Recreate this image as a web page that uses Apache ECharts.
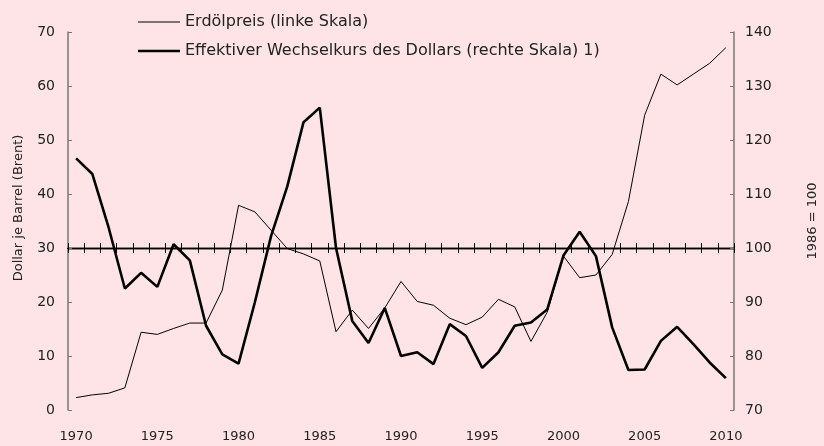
<!DOCTYPE html>
<html>
<head>
<meta charset="utf-8">
<script src="https://cdn.jsdelivr.net/npm/echarts@6/dist/echarts.min.js"></script>
<style>
  html, body { margin: 0; padding: 0; background: #fee4e6; }
  #chart { width: 824px; height: 446px; }
</style>
</head>
<body>
<div id="chart"></div>
<script>
const years = [];
for (let y = 1970; y <= 2010; y++) years.push(String(y));

// Erdölpreis, Dollar je Barrel (linke Skala)
const oilPrice = [
  2.3, 2.8, 3.1, 4.1, 14.4, 14.0, 15.1, 16.1, 16.1, 22.2,
  37.9, 36.7, 33.3, 29.9, 28.9, 27.6, 14.5, 18.5, 15.1, 18.9,
  23.8, 20.1, 19.4, 17.0, 15.8, 17.2, 20.5, 19.1, 12.7, 18.1,
  28.5, 24.5, 25.0, 28.8, 38.6, 54.6, 62.2, 60.2, 62.2, 64.2, 67.1
];

// Effektiver Wechselkurs des Dollars, 1986 = 100 (rechte Skala)
const dollarIndex = [
  116.6, 113.7, 103.8, 92.5, 95.4, 92.8, 100.7, 97.7, 85.6, 80.3,
  78.6, 89.9, 102.2, 111.4, 123.3, 126.0, 100.0, 86.5, 82.4, 88.9,
  80.0, 80.7, 78.5, 85.9, 83.7, 77.8, 80.7, 85.6, 86.2, 88.6,
  98.6, 103.0, 98.5, 85.3, 77.4, 77.5, 82.8, 85.4, 82.2, 78.8, 75.9
];

const oilName = 'Erdölpreis (linke Skala)';
const dollarName = 'Effektiver Wechselkurs des Dollars (rechte Skala) 1)';

const font = 'DejaVu Sans';
const textColor = '#222';
const axisGray = '#777';

const chart = echarts.init(document.getElementById('chart'));

const yAxisCommon = {
  type: 'value',
  interval: 10,
  splitLine: { show: false },
  axisLine: { show: true, lineStyle: { color: axisGray, width: 1.5 } },
  axisTick: { show: true, inside: true, length: 4, lineStyle: { color: axisGray } },
  nameLocation: 'middle',
  nameRotate: 90
};

// horizontal axis line at 100 (right scale) with ticks on both sides
const midLine = (inside) => ({
  type: 'category',
  data: years,
  position: 'bottom',
  offset: -162,
  boundaryGap: true,
  axisLine: { show: true, lineStyle: { color: '#000', width: 1.3 } },
  axisTick: { show: true, inside: inside, length: 5, interval: 0, lineStyle: { color: '#000', width: 1 } },
  axisLabel: { show: false },
  splitLine: { show: false }
});

const legendCommon = {
  left: 133,
  icon: 'rect',
  itemWidth: 42,
  textStyle: { fontFamily: font, fontSize: 16, color: textColor }
};

chart.setOption({
  animation: false,
  backgroundColor: '#fee4e6',
  textStyle: { fontFamily: font },
  grid: { left: 68, right: 90, top: 32, bottom: 36, containLabel: false, outerBoundsMode: 'none' },
  legend: [
    Object.assign({}, legendCommon, { data: [oilName], top: 9, itemHeight: 1 }),
    Object.assign({}, legendCommon, { data: [dollarName], top: 38, itemHeight: 2.5 })
  ],
  xAxis: [
    {
      type: 'category',
      data: years,
      position: 'bottom',
      boundaryGap: true,
      axisLine: { show: false },
      axisTick: { show: false },
      axisLabel: { interval: 4, margin: 20, fontFamily: font, fontSize: 13, color: textColor },
      splitLine: { show: false }
    },
    midLine(false),
    midLine(true)
  ],
  yAxis: [
    Object.assign({}, yAxisCommon, {
      position: 'left', min: 0, max: 70,
      name: 'Dollar je Barrel (Brent)', nameGap: 43,
      nameTextStyle: { fontFamily: font, fontSize: 13, color: textColor, padding: [0, 0, 0, 26] },
      axisLabel: { margin: 13, fontFamily: font, fontSize: 14, color: textColor }
    }),
    Object.assign({}, yAxisCommon, {
      position: 'right', min: 70, max: 140,
      name: '1986 = 100', nameGap: 72,
      nameTextStyle: { fontFamily: font, fontSize: 13, color: textColor },
      axisLabel: { margin: 11, fontFamily: font, fontSize: 14, color: textColor }
    })
  ],
  series: [
    {
      name: oilName,
      type: 'line',
      xAxisIndex: 0, yAxisIndex: 0,
      data: oilPrice,
      symbol: 'none',
      lineStyle: { color: '#000', width: 1 },
      itemStyle: { color: '#000' },
      z: 3
    },
    {
      name: dollarName,
      type: 'line',
      xAxisIndex: 0, yAxisIndex: 1,
      data: dollarIndex,
      symbol: 'none',
      lineStyle: { color: '#000', width: 2.6 },
      itemStyle: { color: '#000' },
      z: 4
    }
  ]
});
</script>
</body>
</html>
